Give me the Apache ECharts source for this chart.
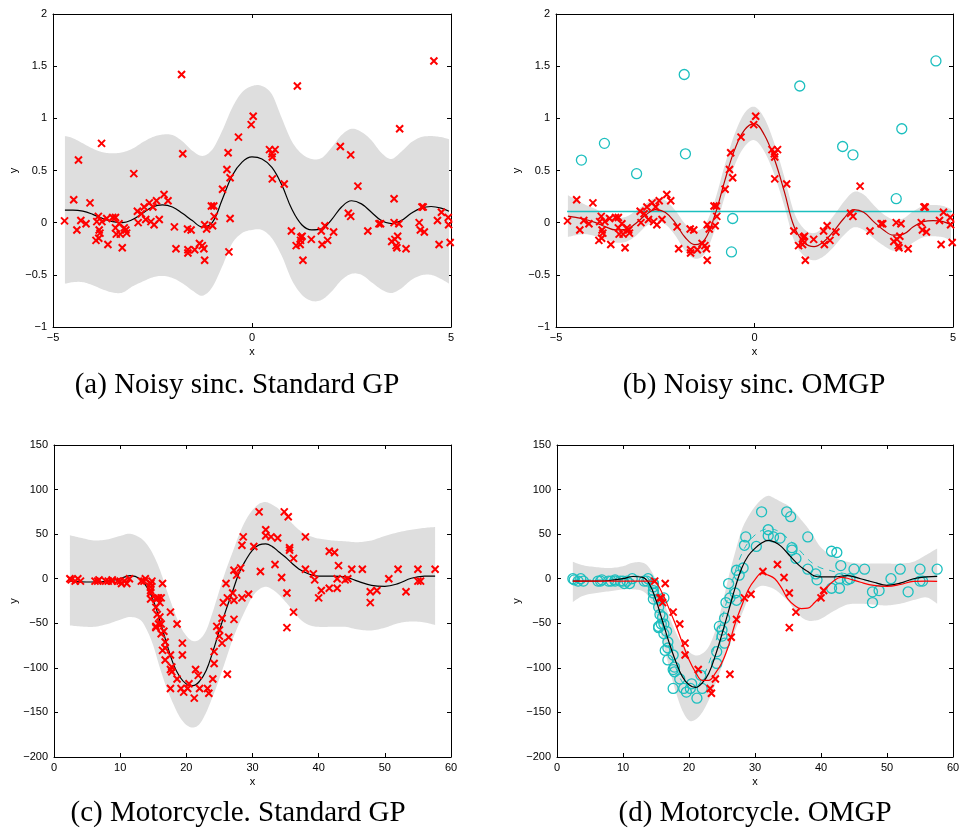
<!DOCTYPE html>
<html><head><meta charset="utf-8">
<script src="https://cdn.jsdelivr.net/npm/echarts/dist/echarts.min.js"></script>
<style>html,body{margin:0;padding:0;background:#fff}#c{width:963px;height:830px}</style>
</head><body><div id="c"></div>
<script>
// ---------- Noisy sinc data ----------
const sincInX = [-4.71,-4.48,-4.40,-4.30,-4.17,-4.07,-3.92,-3.86,-3.90,-3.84,-3.85,-3.82,-3.77,-3.65,-3.62,-3.50,-3.43,-3.43,-3.41,-3.34,-3.31,-3.26,-3.21,-3.17,-3.15,-2.88,-2.86,-2.78,-2.71,-2.67,-2.58,-2.54,-2.49,-2.46,-2.40,-2.33,-2.21,-2.11,-1.95,-1.91,-1.62,-1.61,-1.61,-1.53,-1.44,-1.32,-1.25,-1.21,-1.19,-1.19,-1.14,-1.02,-0.96,-0.99,-0.95,-0.74,-0.63,-0.60,-0.55,-0.34,-0.02,0.03,0.44,0.58,0.50,0.51,0.51,0.81,0.99,1.11,1.21,1.23,1.26,1.22,1.28,1.49,1.74,1.76,1.83,1.90,2.05,2.42,2.48,2.66,2.91,3.19,3.23,3.57,3.69,3.66,3.51,3.59,3.62,3.64,3.87,4.20,4.23,4.27,4.30,4.33,4.66,4.70,4.76,4.93,4.94,4.98];
const sincInY = [0.017,0.22,-0.07,0.02,-0.01,0.19,-0.17,0.06,0.01,-0.07,-0.15,-0.10,0.01,0.04,-0.21,0.05,0.05,-0.05,-0.11,-0.01,-0.11,-0.24,-0.05,-0.07,-0.10,0.11,0.0,0.085,0.15,0.03,0.19,0.01,0.15,-0.02,0.21,0.03,0.27,0.21,-0.04,-0.25,-0.06,-0.26,-0.29,-0.07,-0.26,-0.20,-0.22,-0.25,-0.36,-0.02,-0.06,0.16,0.16,-0.03,0.06,0.32,0.51,0.67,0.43,0.82,0.94,1.02,0.70,0.70,0.66,0.63,0.42,0.37,-0.08,-0.22,-0.21,-0.14,-0.13,-0.17,-0.36,-0.16,-0.08,-0.21,-0.03,-0.17,-0.09,0.09,0.06,0.35,-0.08,-0.01,-0.01,0.00,-0.01,-0.13,-0.18,-0.16,-0.22,-0.24,-0.25,0.00,-0.07,0.15,0.15,-0.09,0.02,-0.21,0.10,0.05,-0.02,-0.19];
const sincOutX = [-4.36,-3.78,-2.97,-1.77,-1.74,-0.55,-0.58,1.14,2.22,2.48,3.57,3.71,4.57];
const sincOutY = [0.60,0.76,0.47,1.42,0.66,0.04,-0.28,1.31,0.73,0.65,0.23,0.90,1.55];

const sincGrid = [-4.7,-4.5,-4.25,-4,-3.75,-3.5,-3.25,-3,-2.75,-2.5,-2.25,-2,-1.75,-1.5,-1.25,-1,-0.75,-0.5,-0.25,0,0.25,0.5,0.75,1,1.25,1.5,1.75,2,2.25,2.5,2.75,3,3.25,3.5,3.75,4,4.25,4.5,4.75,4.95];
// (a) standard GP
const aMean  = [0.12,0.12,0.11,0.08,0.04,0.01,0.0,0.03,0.09,0.15,0.17,0.15,0.09,0.02,-0.04,0.0,0.22,0.45,0.58,0.63,0.61,0.53,0.36,0.13,-0.02,-0.07,-0.06,0.03,0.15,0.21,0.18,0.10,0.02,-0.01,0.02,0.09,0.14,0.155,0.14,0.11];
const aUpper = [0.83,0.81,0.76,0.71,0.675,0.665,0.675,0.71,0.77,0.82,0.845,0.84,0.78,0.69,0.64,0.70,0.88,1.10,1.25,1.31,1.31,1.23,1.0,0.78,0.66,0.61,0.62,0.72,0.84,0.90,0.87,0.79,0.67,0.61,0.68,0.77,0.82,0.83,0.82,0.80];
const aLower = [-0.585,-0.57,-0.57,-0.60,-0.64,-0.67,-0.67,-0.61,-0.565,-0.525,-0.51,-0.53,-0.58,-0.65,-0.70,-0.62,-0.42,-0.20,-0.10,-0.07,-0.07,-0.15,-0.32,-0.55,-0.69,-0.75,-0.74,-0.66,-0.55,-0.49,-0.50,-0.57,-0.64,-0.675,-0.63,-0.55,-0.505,-0.50,-0.54,-0.585];
// (b) OMGP
const bMean  = [0.063,0.05,0.03,0.0,-0.04,-0.07,-0.065,-0.01,0.07,0.125,0.10,0.0,-0.14,-0.21,-0.16,0.07,0.40,0.70,0.89,0.95,0.84,0.61,0.30,-0.04,-0.19,-0.23,-0.18,-0.08,0.04,0.125,0.10,0.01,-0.07,-0.12,-0.11,-0.04,0.01,0.02,0.01,-0.02];
const bUpper = [0.263,0.22,0.17,0.13,0.08,0.05,0.055,0.11,0.18,0.235,0.215,0.12,-0.01,-0.075,-0.025,0.21,0.55,0.85,1.05,1.11,1.0,0.76,0.44,0.095,-0.06,-0.10,-0.04,0.07,0.20,0.295,0.27,0.17,0.08,0.03,0.04,0.11,0.16,0.17,0.16,0.13];
const bLower = [-0.137,-0.12,-0.11,-0.13,-0.16,-0.19,-0.185,-0.13,-0.04,0.015,-0.015,-0.12,-0.27,-0.345,-0.295,-0.07,0.25,0.55,0.73,0.79,0.68,0.46,0.16,-0.175,-0.32,-0.36,-0.32,-0.23,-0.12,-0.045,-0.07,-0.15,-0.22,-0.27,-0.26,-0.19,-0.14,-0.13,-0.14,-0.17];
const bOutlierLineX = [-4.72, 4.98];
const bOutlierLineY = [0.107, 0.107];

// ---------- Motorcycle data ----------
const motoX = [2.4,2.6,3.2,3.6,4.0,6.2,6.6,6.8,7.8,8.2,8.8,8.8,9.6,10.0,10.2,10.6,11.0,11.4,13.2,13.6,13.8,14.6,14.6,14.6,14.6,14.6,14.6,14.8,15.4,15.4,15.4,15.4,15.6,15.6,15.8,15.8,16.0,16.0,16.2,16.2,16.2,16.4,16.4,16.6,16.8,16.8,16.8,17.6,17.6,17.6,17.6,17.8,17.8,18.6,18.6,19.2,19.4,19.4,19.6,20.2,20.4,21.2,21.4,21.8,22.0,23.2,23.4,24.0,24.2,24.2,24.6,25.0,25.0,25.4,25.4,25.6,26.0,26.2,26.2,26.4,27.0,27.2,27.2,27.2,27.6,28.2,28.4,28.4,28.6,29.4,30.2,31.0,31.2,32.0,32.0,32.8,33.4,33.8,34.4,34.8,35.2,35.2,35.4,35.6,35.6,36.2,36.2,38.0,38.0,39.2,39.4,40.0,40.4,41.6,41.6,42.4,42.8,42.8,43.0,44.0,44.4,45.0,46.6,47.8,47.8,48.8,50.6,52.0,53.2,55.0,55.0,55.4,57.6];
const motoY = [0.0,-1.3,-2.7,0.0,-2.7,-2.7,-2.7,-1.3,-2.7,-2.7,-1.3,-2.7,-2.7,-2.7,-5.4,-2.7,-5.4,0.0,-2.7,-2.7,0.0,-13.3,-5.4,-5.4,-9.3,-16.0,-22.8,-2.7,-22.8,-32.1,-53.5,-54.9,-40.2,-21.5,-21.5,-50.8,-42.9,-26.8,-21.5,-50.8,-61.7,-5.4,-80.4,-59.0,-71.0,-91.1,-77.7,-37.5,-85.6,-123.1,-101.9,-99.1,-104.4,-112.5,-50.8,-123.1,-85.6,-72.3,-127.2,-123.1,-117.9,-134.0,-101.9,-108.4,-123.1,-123.1,-128.5,-112.5,-95.1,-81.8,-53.5,-64.4,-57.6,-72.3,-44.3,-26.8,-5.4,-107.1,-21.5,-65.6,-16.0,-45.6,-24.2,9.5,4.0,12.0,-21.5,37.5,46.9,-17.4,36.2,75.0,8.1,54.9,48.2,46.9,16.0,45.6,1.3,75.0,-16.0,-54.9,69.6,34.8,32.1,-37.5,22.8,46.9,10.7,5.4,-1.3,-21.5,-13.3,30.8,-10.7,29.4,0.0,-10.7,14.7,-1.3,0.0,10.7,10.7,-26.8,-14.7,-13.3,0.0,10.7,-14.7,-2.7,10.7,-2.7,10.7];
// indices (0-based) of the points that OMGP assigns to the red component in (d)
const motoRedIdx = [27,33,34,37,41,47,54,56,57,62,65,66,67,77,79,81,86,89,92,96,98,100,101,105,111,112];

const motoGrid = [2.4,4,6,8,10,11.5,13,14,15,16,17,18,19,20,21,22,23,24,25,26,27,28,29,30,31,32,33,34,35,36,37,38,39,40,42,44,46,48,50,52,54,56,57.6];
// (c) standard GP
const cMean  = [-2.6,-3.5,-3.7,-3,0,3.5,0,-9,-24,-47,-72,-95,-110,-118,-120,-115,-103,-82,-58,-35,-14,7,21,32,38,39,36,30,24,17,11,7,4,3,3,2,-3,-7.5,-8.5,-5.5,0.5,2.8,3];
const cUpper = [48.7,46,43,44,48,50.5,46,39,27,10,-12,-33,-52,-64,-70,-68,-58,-37,-13,10,30,50,66,77,84,86,83,78,70,62,55,50,47,45,43,42,41,43,48,52,55,57,58];
const cLower = [-52.4,-53.5,-54,-51,-46,-43,-46,-57,-75,-100,-122,-140,-155,-164,-167,-163,-150,-132,-112,-90,-68,-50,-34,-20,-12,-9,-12,-18,-26,-35,-44,-50,-53,-54,-54,-54,-57,-58,-55,-50,-48,-49,-52];
// (d) OMGP
const dMean  = [-2.6,-2.6,-2.6,-2,0,2.5,1.5,-6,-24,-48,-72,-93,-110,-119,-122,-117,-106,-86,-62,-36,-10,12,26,34,40,43,41,36,28,20,13,8,3,2,2,3.5,0,-4,-7.5,-5,0,2,2.6];
const dUpper = [19,15,13,12,14,18,18,12,-2,-22,-42,-60,-74,-82,-86,-84,-76,-58,-30,2,30,55,70,81,89,93,90,86,82,75,66,57,46,35,24,19,17,17,17,17,19,27,34];
const dLower = [-26,-19,-16,-14,-12,-12,-14,-22,-40,-70,-100,-127,-148,-159,-158,-150,-136,-118,-98,-77,-58,-40,-22,-12,-8,-9,-12,-18,-25,-35,-43,-47,-47,-45,-36,-29,-28,-29,-30,-28,-24,-21,-28];
const dRedX = [2.4,6,10,14,14.9,16,17,18,19,20,21,22,23,24,25,26,27,28,29,30,31,32,33,34,35,36,37,38,39,40,41,42,43,44,46,48,50,52,54,56,57.6];
const dRedY = [-2.6,-2.6,-2.6,-2.6,-4,-17,-34,-52,-72,-91,-105,-114,-114,-106,-94,-75,-50,-30,-12,-1,6,4,0,-10,-23,-30,-33.5,-33,-27,-19,-9,-2,1.5,0.5,-4,-7.5,-8.5,-6.5,-3,-2.6,-3];
const dCyanX = [2.4,6,10,12,13,14,15,16,17,18,19,20,21,22,23,24,25,26,27,28,29,30,31,32,33,34,35,36,37,38,39,40,41,42,44,46,48,50,52,54,56,57.6];
const dCyanY = [-1.5,-1.5,0.5,3,1.5,-5,-25,-52,-78,-100,-116,-123,-122,-112,-95,-72,-45,-18,8,28,41,49,54,56,55,51,45,38,30,22,16,12,10,8,5,0,-4,-7,-5,-1,2,3];

// ---------- ticks / labels ----------
const sincXTicks = [-5, 5, 5];      // min, max, interval
const sincYTicks = [-1, 2, 0.5];
const motoXTicks = [0, 60, 10];
const motoYTicks = [-200, 150, 50];
const captions = ['(a) Noisy sinc. Standard GP', '(b) Noisy sinc. OMGP', '(c) Motorcycle. Standard GP', '(d) Motorcycle. OMGP'];

// ---------- styling ----------
const RED = '#ff0000', CYAN = '#1cbfbf', GRAY = '#dedede', DARKRED = '#c00000';
const grids = [
  {left: 53, top: 14, width: 398, height: 313},
  {left: 556, top: 14, width: 397, height: 313},
  {left: 54, top: 445, width: 397, height: 312},
  {left: 557, top: 445, width: 396, height: 312}
];
const fmt = v => String(v).replace('-', '\u2212');
const xAxes = [], yAxes = [];
function addAxes(i, xt, yt) {
  const base = {type: 'value', gridIndex: i, splitLine: {show: false},
    axisLine: {show: true, onZero: false, lineStyle: {color: '#000', width: 1}},
    axisTick: {show: true, inside: true, length: 4, lineStyle: {color: '#000', width: 1}}};
  const lbl = {show: true, formatter: fmt, color: '#000', fontSize: 11, fontFamily: 'Liberation Sans', showMinLabel: true, showMaxLabel: true};
  const nm = {color: '#000', fontSize: 11, fontFamily: 'Liberation Sans'};
  xAxes.push(Object.assign({}, base, {position: 'bottom', min: xt[0], max: xt[1], interval: xt[2],
    axisLabel: Object.assign({}, lbl, {margin: 5}), name: 'x', nameLocation: 'middle', nameGap: 19, nameTextStyle: nm}));
  xAxes.push(Object.assign({}, base, {position: 'top', min: xt[0], max: xt[1], interval: xt[2], axisLabel: {show: false}}));
  yAxes.push(Object.assign({}, base, {position: 'left', min: yt[0], max: yt[1], interval: yt[2],
    axisLabel: Object.assign({}, lbl, {margin: 6}), name: 'y', nameLocation: 'middle', nameGap: 34, nameTextStyle: nm}));
  yAxes.push(Object.assign({}, base, {position: 'right', min: yt[0], max: yt[1], interval: yt[2], axisLabel: {show: false}}));
}
addAxes(0, sincXTicks, sincYTicks);
addAxes(1, sincXTicks, sincYTicks);
addAxes(2, motoXTicks, motoYTicks);
addAxes(3, motoXTicks, motoYTicks);

const zip = (xs, ys) => xs.map((x, k) => [x, ys[k]]);

// Catmull-Rom smoothing of already-projected pixel points (rendering only)
function smoothPx(pts, n) {
  const out = [];
  for (let i = 0; i < pts.length - 1; i++) {
    const p0 = pts[Math.max(i - 1, 0)], p1 = pts[i], p2 = pts[i + 1], p3 = pts[Math.min(i + 2, pts.length - 1)];
    for (let s = 0; s < n; s++) {
      const t = s / n, t2 = t * t, t3 = t2 * t;
      out.push([0, 1].map(d => 0.5 * ((2 * p1[d]) + (-p0[d] + p2[d]) * t + (2 * p0[d] - 5 * p1[d] + 4 * p2[d] - p3[d]) * t2 + (-p0[d] + 3 * p1[d] - 3 * p2[d] + p3[d]) * t3)));
    }
  }
  out.push(pts[pts.length - 1]);
  return out;
}
function band(i, xs, lo, hi) {
  return {type: 'custom', xAxisIndex: 2 * i, yAxisIndex: 2 * i, data: [[xs[0], lo[0]]], silent: true, z: 1, clip: true,
    renderItem: function (params, api) {
      const up = smoothPx(xs.map((x, k) => api.coord([x, hi[k]])), 8);
      const dn = smoothPx(xs.map((x, k) => api.coord([x, lo[k]])), 8).reverse();
      return {type: 'polygon', shape: {points: up.concat(dn)}, style: {fill: GRAY, stroke: null}};
    }};
}
function line(i, xs, ys, color, extra) {
  return Object.assign({type: 'line', xAxisIndex: 2 * i, yAxisIndex: 2 * i, data: zip(xs, ys), symbol: 'none', smooth: 0.4,
    lineStyle: {color: color, width: 1.2}, silent: true, z: 3}, extra || {});
}
const XSYM = 'path://M0,0L10,10M10,0L0,10';
function crosses(i, pts, z) {
  return {type: 'scatter', xAxisIndex: 2 * i, yAxisIndex: 2 * i, data: pts, symbol: XSYM, symbolSize: 7,
    itemStyle: {color: RED, borderColor: RED, borderWidth: 2, opacity: 1}, silent: true, z: z || 4};
}
function circles(i, pts, size, z) {
  return {type: 'scatter', xAxisIndex: 2 * i, yAxisIndex: 2 * i, data: pts, symbol: 'circle', symbolSize: size,
    itemStyle: {color: 'rgba(0,0,0,0)', borderColor: CYAN, borderWidth: 1.3, opacity: 1}, silent: true, z: z || 4};
}

const sincIn = zip(sincInX, sincInY), sincOut = zip(sincOutX, sincOutY);
const moto = zip(motoX, motoY);
const motoRed = moto.filter((p, k) => motoRedIdx.indexOf(k) >= 0);
const motoCyan = moto.filter((p, k) => motoRedIdx.indexOf(k) < 0);

const series = [
  band(0, sincGrid, aLower, aUpper),
  line(0, sincGrid, aMean, '#000'), crosses(0, sincIn.concat(sincOut)),
  band(1, sincGrid, bLower, bUpper),
  line(1, bOutlierLineX, bOutlierLineY, CYAN, {smooth: false, lineStyle: {color: CYAN, width: 1.5}}),
  line(1, sincGrid, bMean, DARKRED),
  crosses(1, sincIn), circles(1, sincOut, 10),
  band(2, motoGrid, cLower, cUpper),
  line(2, motoGrid, cMean, '#000'), crosses(2, moto),
  band(3, motoGrid, dLower, dUpper),
  circles(3, motoCyan, 10, 2), crosses(3, motoRed, 2),
  line(3, dCyanX, dCyanY, CYAN, {lineStyle: {color: CYAN, width: 1, type: [6, 6]}}),
  line(3, motoGrid, dMean, '#000'), line(3, dRedX, dRedY, RED)
];

const capPos = [[237, 385], [754, 385], [238, 813], [755, 813]];
const graphic = captions.map((t, k) => ({type: 'text', x: capPos[k][0], y: capPos[k][1], silent: true,
  style: {text: t, fill: '#000', font: '29px "Liberation Serif"', align: 'center', verticalAlign: 'middle'}}));

const chart = echarts.init(document.getElementById('c'), null, {renderer: 'canvas'});
chart.setOption({
  animation: false,
  backgroundColor: '#fff',
  grid: grids,
  xAxis: xAxes,
  yAxis: yAxes,
  series: series,
  graphic: graphic
});
</script></body></html>
